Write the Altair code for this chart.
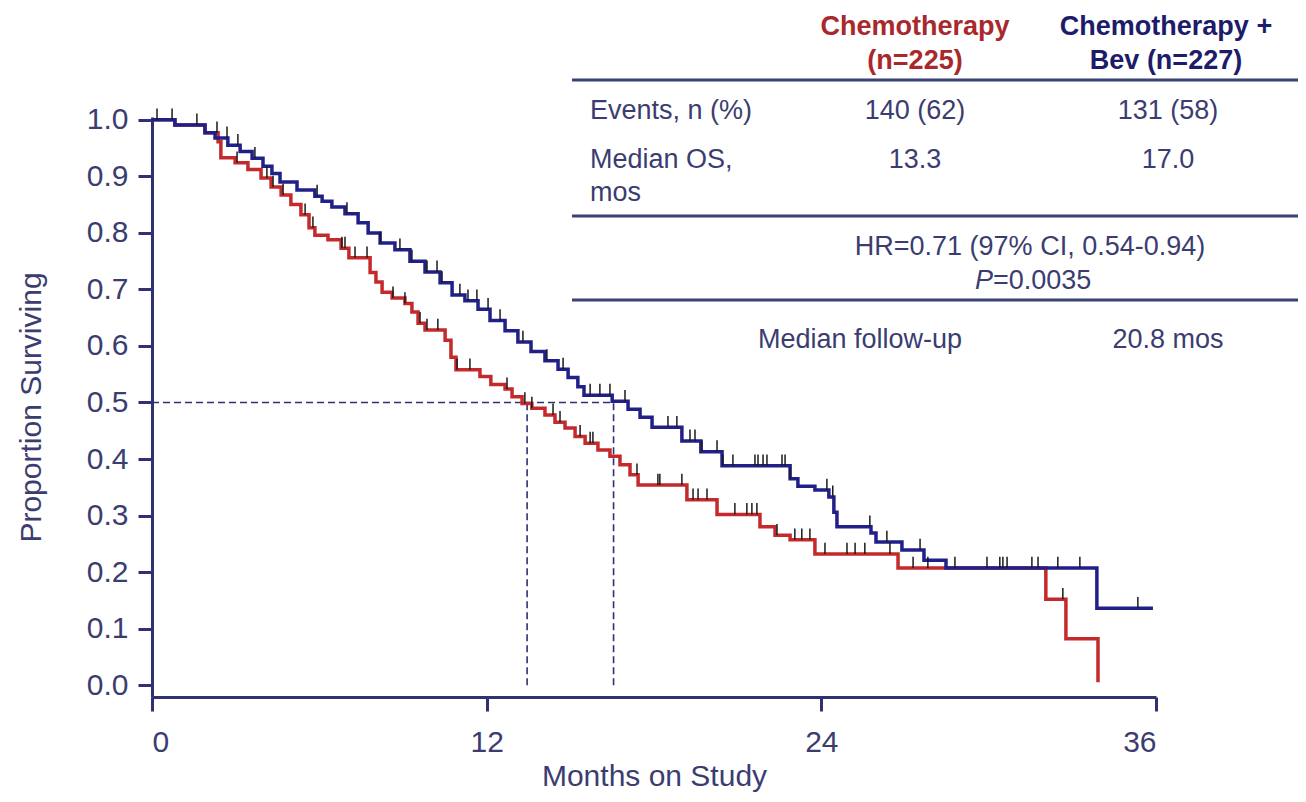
import altair as alt
import pandas as pd

# ---------------- data ----------------
# Kaplan-Meier step points (months, proportion surviving)
chemo_t = [0.00, 0.82, 1.90, 2.37, 2.47, 2.98, 3.44, 3.91, 4.27, 4.63, 4.98, 5.34, 5.63, 5.84,
           6.31, 6.78, 7.06, 7.82, 8.03, 8.25, 8.61, 9.07, 9.32, 9.54, 9.79, 10.51, 10.72, 10.90,
           11.76, 12.15, 12.66, 12.91, 13.27, 13.62, 14.09, 14.45, 14.81, 15.17, 15.53, 15.99,
           16.42, 16.78, 17.14, 17.43, 19.18, 20.26, 21.80, 22.34, 22.88, 23.77, 26.75, 32.05,
           32.77, 33.92]
chemo_s = [1.000, 0.991, 0.977, 0.961, 0.933, 0.924, 0.912, 0.897, 0.881, 0.867, 0.850, 0.832,
           0.809, 0.796, 0.788, 0.773, 0.756, 0.730, 0.713, 0.695, 0.685, 0.675, 0.660, 0.640,
           0.628, 0.610, 0.580, 0.558, 0.546, 0.532, 0.524, 0.510, 0.498, 0.490, 0.478, 0.465,
           0.455, 0.440, 0.428, 0.416, 0.405, 0.390, 0.372, 0.354, 0.328, 0.302, 0.280, 0.265,
           0.257, 0.232, 0.207, 0.152, 0.082, 0.005]

bev_t = [0.00, 0.82, 1.90, 2.26, 2.72, 3.16, 3.59, 3.98, 4.30, 4.59, 5.20, 5.84, 6.10, 6.45,
         6.92, 7.39, 7.75, 8.18, 8.71, 9.25, 9.79, 10.33, 10.76, 11.22, 11.69, 12.12, 12.66,
         13.12, 13.59, 14.09, 14.56, 14.92, 15.27, 15.49, 16.50, 17.07, 17.50, 17.93, 19.00,
         19.68, 20.44, 22.88, 23.16, 23.77, 24.27, 24.45, 24.56, 25.78, 25.96, 26.89, 27.68,
         28.47, 33.88, 35.89]
bev_s = [1.000, 0.991, 0.977, 0.968, 0.955, 0.944, 0.932, 0.918, 0.905, 0.890, 0.876, 0.865,
         0.856, 0.846, 0.834, 0.818, 0.800, 0.782, 0.770, 0.750, 0.731, 0.712, 0.690, 0.680,
         0.665, 0.645, 0.627, 0.607, 0.590, 0.574, 0.559, 0.544, 0.528, 0.513, 0.502, 0.488,
         0.474, 0.456, 0.432, 0.413, 0.388, 0.365, 0.352, 0.345, 0.333, 0.306, 0.280, 0.269,
         0.253, 0.239, 0.221, 0.207, 0.136, 0.136]

# censoring marks (months)
chemo_cens = [1.61, 2.33, 3.05, 4.12, 4.34, 4.70, 5.49, 5.77, 6.81, 6.92, 7.28, 7.71, 8.64, 9.07,
              9.61, 9.86, 10.25, 10.94, 11.40, 12.73, 13.37, 13.62, 14.38, 14.63, 15.35, 15.71,
              15.81, 17.39, 18.14, 18.21, 19.00, 19.40, 19.58, 19.90, 20.90, 21.33, 21.51, 21.69,
              22.41, 23.05, 23.30, 23.59, 24.13, 24.92, 25.21, 25.56, 26.46, 27.29, 27.82, 32.66]
bev_cens = [0.18, 0.72, 2.69, 3.08, 3.69, 5.92, 6.99, 8.18, 8.89, 9.32, 9.86, 10.22, 10.40, 11.04,
            11.33, 11.65, 12.05, 12.48, 13.30, 14.16, 14.74, 15.71, 16.06, 16.42, 16.96, 18.50,
            18.82, 19.29, 19.47, 19.72, 20.26, 20.47, 20.83, 21.62, 21.73, 21.91, 22.05, 22.59,
            22.70, 22.88, 24.20, 24.41, 25.74, 26.35, 27.54, 28.79, 29.94, 30.40, 30.51, 30.66,
            31.55, 31.77, 32.48, 33.27, 35.35]

# median reference positions as drawn (months)
median_chemo_line = 13.45
median_bev_line = 16.55

x_ticks = [0, 12, 24, 36]
y_ticks = [0.0, 0.1, 0.2, 0.3, 0.4, 0.5, 0.6, 0.7, 0.8, 0.9, 1.0]

# table text
hdr_chemo = ["Chemotherapy", "(n=225)"]
hdr_bev = ["Chemotherapy +", "Bev (n=227)"]
row_events = ["Events, n (%)", "140 (62)", "131 (58)"]
row_median = ["Median OS,", "mos", "13.3", "17.0"]
hr_text = "HR=0.71 (97% CI, 0.54-0.94)"
p_label = ["P", "=0.0035"]
followup = ["Median follow-up", "20.8 mos"]

# ---------------- styles ----------------
FONT = "Liberation Sans"
RED = "#c42a2c"
BLUE = "#202088"
HRED = "#a8282c"
HBLUE = "#1c1c6a"
TXT = "#3b3d70"
AX = "#2f3170"
RULE = "#384274"
CENS = "#1a1a1a"
LEFT, TOP = 152, 117  # absolute position of plot origin


def step_value(ts, ss, c):
    v = ss[0]
    for t, s in zip(ts, ss):
        if t <= c:
            v = s
    return v


curves = pd.DataFrame(
    {"month": chemo_t + bev_t,
     "surv": chemo_s + bev_s,
     "arm": ["Chemotherapy"] * len(chemo_t) + ["Chemotherapy + Bev"] * len(bev_t)}
)
cens = pd.DataFrame(
    {"month": chemo_cens + bev_cens,
     "surv": [step_value(chemo_t, chemo_s, c) for c in chemo_cens]
     + [step_value(bev_t, bev_s, c) for c in bev_cens]}
)
ref_h = pd.DataFrame({"x": [0.0], "x2": [median_bev_line], "y": [0.5]})
ref_v = pd.DataFrame({"x": [median_chemo_line, median_bev_line], "y": [0.0, 0.0], "y2": [0.5, 0.5]})

xscale = alt.Scale(domain=[0, 36], nice=False, zero=False)
yscale = alt.Scale(domain=[-0.021, 1.005], nice=False, zero=False)

xaxis = alt.Axis(values=x_ticks, title="Months on Study", grid=False, domainColor=AX,
                 domainWidth=3, tickColor=AX, tickWidth=3, tickSize=14, labelFont=FONT,
                 labelFontSize=30, labelColor=TXT, labelPadding=16, titleFont=FONT,
                 titleFontSize=30, titleColor=TXT, titleFontWeight="normal",
                 titleBaseline="alphabetic", titleY=88)
yaxis = alt.Axis(values=y_ticks, format=".1f", title="Proportion Surviving", grid=False,
                 domainColor=AX, domainWidth=3, tickColor=AX, tickWidth=3, tickSize=14,
                 labelFont=FONT, labelFontSize=30, labelColor=TXT, labelPadding=10,
                 titleFont=FONT, titleFontSize=30, titleColor=TXT, titleFontWeight="normal",
                 titleBaseline="alphabetic", titleX=-112, titleY=290, titleAngle=-90)

dash_h = alt.Chart(ref_h).mark_rule(color=AX, strokeWidth=1.6, strokeDash=[7, 4]).encode(
    x=alt.X("x:Q", scale=xscale, axis=xaxis), x2="x2:Q",
    y=alt.Y("y:Q", scale=yscale, axis=yaxis))
dash_v = alt.Chart(ref_v).mark_rule(color=AX, strokeWidth=1.6, strokeDash=[7, 4]).encode(
    x="x:Q", y="y:Q", y2="y2:Q")

line_red = alt.Chart(curves).transform_filter(alt.datum.arm == "Chemotherapy").mark_line(
    interpolate="step-after", color=RED, strokeWidth=3.5, strokeJoin="miter", strokeCap="butt"
).encode(x="month:Q", y="surv:Q")
line_blue = alt.Chart(curves).transform_filter(alt.datum.arm == "Chemotherapy + Bev").mark_line(
    interpolate="step-after", color=BLUE, strokeWidth=3.5, strokeJoin="miter", strokeCap="butt"
).encode(x="month:Q", y="surv:Q")

ticks = alt.Chart(cens).transform_calculate(top="datum.surv + 0.02").mark_rule(
    color=CENS, strokeWidth=1.5).encode(x="month:Q", y="surv:Q", y2="top:Q")


def txt(s, x, y, color=TXT, size=27, weight="normal", style="normal", align="center"):
    return alt.Chart(alt.Data(values=[{}])).mark_text(
        text=s, font=FONT, fontSize=size, color=color, fontWeight=weight, fontStyle=style,
        align=align, baseline="middle").encode(x=alt.value(x - LEFT), y=alt.value(y - TOP))


def hline(y, x1=572, x2=1298):
    return alt.Chart(alt.Data(values=[{}])).mark_rule(color=RULE, strokeWidth=3).encode(
        x=alt.value(x1 - LEFT), x2=alt.value(x2 - LEFT), y=alt.value(y - TOP))


table = [
    txt(hdr_chemo[0], 915, 27, HRED, 27, "bold"),
    txt(hdr_chemo[1], 915, 61, HRED, 27, "bold"),
    txt(hdr_bev[0], 1166, 27, HBLUE, 27, "bold"),
    txt(hdr_bev[1], 1166, 61, HBLUE, 27, "bold"),
    hline(80),
    txt(row_events[0], 590, 111, align="left"),
    txt(row_events[1], 915, 111),
    txt(row_events[2], 1168, 111),
    txt(row_median[0], 590, 160, align="left"),
    txt(row_median[1], 590, 193, align="left"),
    txt(row_median[2], 915, 160),
    txt(row_median[3], 1168, 160),
    hline(216),
    txt(hr_text, 1030, 247),
    txt(p_label[0], 993, 281, style="italic", align="right"),
    txt(p_label[1], 993, 281, align="left"),
    hline(300),
    txt(followup[0], 860, 340),
    txt(followup[1], 1168, 340),
]

chart = alt.layer(dash_h, dash_v, line_red, line_blue, ticks, *table).properties(
    width=1004, height=580,
    padding={"left": 144, "top": 109, "right": 142, "bottom": 102},
    autosize=alt.AutoSizeParams(type="none"),
).configure(background="white").configure_view(stroke=None).configure_axis(grid=False)

chart.save("out.html", embed_options={"renderer": "svg", "actions": False})
